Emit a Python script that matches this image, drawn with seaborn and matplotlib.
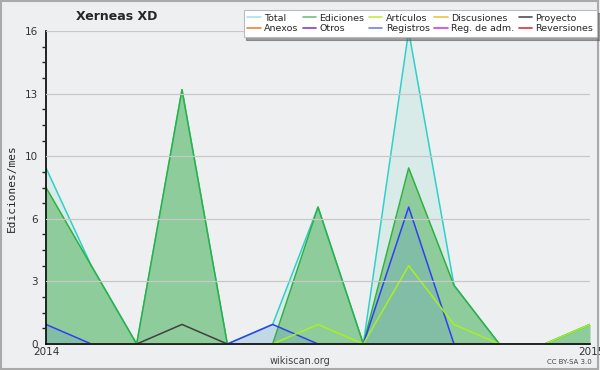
import numpy as np
import pandas as pd
import matplotlib
matplotlib.use("Agg")
import matplotlib.pyplot as plt
import seaborn as sns
from matplotlib.ticker import FixedLocator, MultipleLocator
from matplotlib.lines import Line2D

sns.set_style("white")
plt.rcParams['font.family'] = ['DejaVu Sans']

# monthly edits, Jan 2014 .. Jan 2015
months = list(range(13))
total = [9, 4, 0, 13, 0, 1, 7, 0, 16, 3, 0, 0, 1]
ediciones = [8, 4, 0, 13, 0, 0, 7, 0, 9, 3, 0, 0, 1]
registros = [1, 0, 0, 0, 0, 1, 0, 0, 7, 0, 0, 0, 0]
articulos = [0, 0, 0, 0, 0, 0, 1, 0, 4, 1, 0, 0, 1]
proyecto = [0, 0, 0, 1, 0, 0, 0, 0, 0, 0, 0, 0, 0]

legend_names = ['Total', 'Anexos', 'Ediciones', 'Otros', 'Artículos', 'Registros',
                'Discusiones', 'Reg. de adm.', 'Proyecto', 'Reversiones']
legend_colors = ['#a8e8e0', '#f08040', '#70c080', '#8040d0', '#c0f040', '#7080f0',
                 '#f0c040', '#d040e0', '#505050', '#e03030']

bg = '#eeeff1'
fig = plt.figure(figsize=(6, 3.7), dpi=100, facecolor=bg)
ax = fig.add_axes([46/600, 1-344/370, 544/600, 313/370])
ax.set_facecolor(bg)

df = pd.DataFrame({'mes': months, 'total': total, 'ediciones': ediciones,
                   'registros': registros, 'articulos': articulos, 'proyecto': proyecto})

# fills
ax.fill_between(df['mes'], df['total'], color='#60d8c0', alpha=0.15, lw=0)
ax.fill_between(df['mes'], df['ediciones'], color='#34a840', alpha=0.45, lw=0)
ax.fill_between(df['mes'], df['registros'], color='#4070e0', alpha=0.15, lw=0)

sns.lineplot(data=df, x='mes', y='total', color='#30d0c8', lw=1.1, ax=ax)
sns.lineplot(data=df, x='mes', y='ediciones', color='#30b040', lw=1.1, ax=ax)
sns.lineplot(data=df, x='mes', y='registros', color='#3040f0', lw=1.1, ax=ax)
sns.lineplot(data=df, x='mes', y='articulos', color='#a8f020', lw=1.1, ax=ax)
sns.lineplot(data=df, x='mes', y='proyecto', color='#404040', lw=1.1, ax=ax)

ax.set_xlim(0, 12)
ax.set_ylim(0, 16)
ax.set_xlabel('')
ax.set_ylabel('')

yt = [0, 3.2, 6.4, 9.6, 12.8, 16]
ax.yaxis.set_major_locator(FixedLocator(yt))
ax.set_yticklabels([str(int(round(v))) for v in yt], fontsize=7.5, color='#333333')
ax.yaxis.set_minor_locator(MultipleLocator(0.8))
ax.tick_params(axis='y', which='major', length=5, width=1, direction='out', pad=1)
ax.tick_params(axis='y', which='minor', length=3, width=1, direction='out', left=True)
ax.grid(axis='y', color='#c8c8c8', lw=0.9)

ax.xaxis.set_major_locator(FixedLocator(months))
ax.set_xticklabels(['' for m in months])
ax.tick_params(axis='x', length=5, width=1, direction='out')

for s in ['top', 'right']:
    ax.spines[s].set_visible(False)
for s in ['left', 'bottom']:
    ax.spines[s].set_color('black')
    ax.spines[s].set_linewidth(1.2)
ax.set_axisbelow(False)

fig.text(12/600, 1-188/370, 'Ediciones/mes', rotation=90, ha='center', va='center',
         fontsize=8, family='DejaVu Sans Mono')
fig.text(46/600, 1-352/370, '2014', ha='center', va='center', fontsize=7.5, color='#333333')
fig.text(591/600, 1-352/370, '2015', ha='center', va='center', fontsize=7.5, color='#333333')
fig.text(117/600, 1-17/370, 'Xerneas XD', ha='center', va='center', fontsize=9, fontweight='bold')
fig.text(300/600, 1-361/370, 'wikiscan.org', ha='center', va='center', fontsize=7, color='#444444')
fig.text(569/600, 1-362/370, 'CC BY-SA 3.0', ha='center', va='center', fontsize=5, color='#444444')

handles = [Line2D([0], [0], color=c, lw=1.2) for c in legend_colors]
leg = fig.legend(handles, legend_names, ncol=5, loc='upper right',
                 bbox_to_anchor=(597/600, 1-10/370), fontsize=6.8, frameon=True,
                 fancybox=False, shadow=True, handlelength=1.4, handletextpad=0.35,
                 columnspacing=0.5, labelspacing=0.15, borderpad=0.4,
                 borderaxespad=0)
leg.get_frame().set_edgecolor('#bbbbbb')
leg.get_frame().set_linewidth(0.8)

fig.add_artist(plt.Rectangle((0.002, 0.003), 0.995, 0.993, transform=fig.transFigure,
                             fill=False, edgecolor='#aaaaaa', lw=1.5))

fig.savefig('out.png', dpi=100, facecolor=bg)
